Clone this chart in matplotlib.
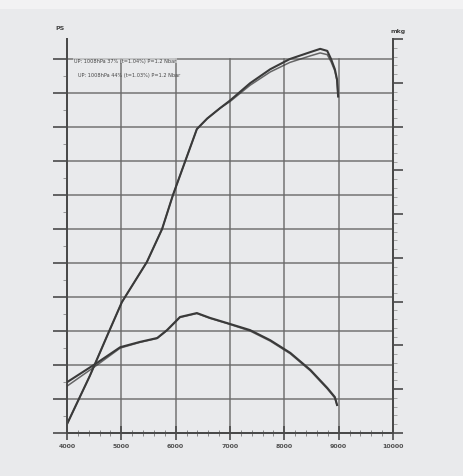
import matplotlib
matplotlib.use("Agg")
import matplotlib.pyplot as plt
import numpy as np

# ---- data ----
rpm_power = [4000, 4420, 4750, 5010, 5470, 5750, 5950, 6170, 6390, 6580, 6820,
             7000, 7370, 7740, 8100, 8470, 8660, 8790, 8860, 8930, 8970, 8990]
power_run1 = [2.6, 16.8, 29, 38.5, 50.3, 60, 70, 79.7, 89.4, 92.5, 95.6,
              97.8, 102.9, 107, 110, 112, 113, 112.4, 110, 107, 104, 99]
power_run2 = [2.6, 16.8, 29, 38.5, 50.3, 60, 70, 79.7, 89.4, 92.5, 95.6,
              97.5, 102.3, 106.2, 109, 110.9, 111.8, 111.3, 109.2, 106.5, 103.5, 99]

rpm_torque = [4000, 4550, 4980, 5340, 5660, 5840, 6080, 6390, 6630, 6950,
              7370, 7740, 8110, 8480, 8790, 8930, 8970]
torque_run1 = [1.16, 1.60, 1.96, 2.08, 2.17, 2.35, 2.65, 2.74, 2.63, 2.51,
               2.35, 2.12, 1.83, 1.44, 1.03, 0.82, 0.64]
torque_run2 = [1.07, 1.55, 1.94, 2.07, 2.16, 2.34, 2.64, 2.73, 2.62, 2.50,
               2.33, 2.10, 1.81, 1.42, 1.01, 0.80, 0.64]

x_ticks = [4000, 5000, 6000, 7000, 8000, 9000, 10000]
x_labels = ["4000", "5000", "6000", "7000", "8000", "9000", "10000"]
legend_lines = ["UP: 1008hPa 37% (t=1.04%) P=1.2 Nbar",
                "UP: 1008hPa 44% (t=1.03%) P=1.2 Nbar"]

bg = "#e9eaec"
grid_c = "#6a6a6a"
line_c = "#3a3a3a"

fig = plt.figure(figsize=(4.64, 4.77), dpi=100, facecolor=bg)
# lighter band at the very top of the scan
fig.patches.append(plt.Rectangle((0, 1-10/477), 1, 10/477, transform=fig.transFigure,
                                 facecolor="#f2f2f3", edgecolor="none", zorder=0))
ax = fig.add_axes([67/464, 1-434/477, 326/464, 394/477], facecolor=bg)
ax2 = ax.twinx()

ax.set_xlim(4000, 10000)
ax.set_ylim(0, 115.9)
ax2.set_ylim(0, 9)

# grid
for v in range(10, 111, 10):
    ax.plot([4000, 10000], [v, v], color=grid_c, lw=1.2, zorder=1, alpha=0.85)
for xv in x_ticks[1:-1]:
    ax.plot([xv, xv], [0, 110], color=grid_c, lw=1.2, zorder=1, alpha=0.85)

# curves
ax.plot(rpm_power, power_run1, color=line_c, lw=1.5, zorder=3)
ax.plot(rpm_power, power_run2, color=line_c, lw=1.1, zorder=3, alpha=0.75)
ax2.plot(rpm_torque, torque_run1, color=line_c, lw=1.5, zorder=3)
ax2.plot(rpm_torque, torque_run2, color=line_c, lw=1.1, zorder=3, alpha=0.75)

# spines
for a in (ax, ax2):
    a.spines["top"].set_visible(False)
    for s in ("left", "right", "bottom"):
        a.spines[s].set_color("#4a4a4a")
        a.spines[s].set_linewidth(1.4)

ax.set_xticks(x_ticks)
ax.set_xticklabels(x_labels, fontsize=4.5, color="#505050", fontweight="bold")
ax.set_xticks(np.arange(4000, 10001, 200), minor=True)
ax.tick_params(axis="x", which="major", direction="inout", length=10, width=1.2,
               color="#4a4a4a", pad=2)
ax.tick_params(axis="x", which="minor", direction="inout", length=4, width=0.6,
               color="#777777")

ax.set_yticks(range(0, 111, 10))
ax.set_yticklabels([])
ax.set_yticks(np.arange(0, 112, 5), minor=True)
ax.tick_params(axis="y", which="major", direction="out", length=10, width=1.2,
               color="#4a4a4a")
ax.tick_params(axis="y", which="minor", direction="out", length=3, width=0.6,
               color="#888888")

ax2.set_yticks(range(0, 10))
ax2.set_yticklabels([])
ax2.set_yticks(np.arange(0, 9.01, 0.2), minor=True)
ax2.tick_params(axis="y", which="major", direction="out", length=7, width=1.2,
                color="#4a4a4a")
ax2.tick_params(axis="y", which="minor", direction="out", length=3, width=0.6,
                color="#999999")

# axis unit labels
fig.text(60/464, 1-29/477, "PS", fontsize=4.5, color="#444444",
         ha="center", va="center", fontweight="bold")
fig.text(398/464, 1-31/477, "mkg", fontsize=4.5, color="#444444",
         ha="center", va="center", fontweight="bold")

# legend text
fig.text(74/464, 1-61/477, legend_lines[0], fontsize=3.6, color="#444444",
         ha="left", va="center",
         bbox=dict(facecolor=bg, edgecolor="none", pad=0.5, alpha=0.6))
fig.text(78/464, 1-76/477, legend_lines[1], fontsize=3.6, color="#444444",
         ha="left", va="center")

fig.savefig("out.png", dpi=100, facecolor=bg)
